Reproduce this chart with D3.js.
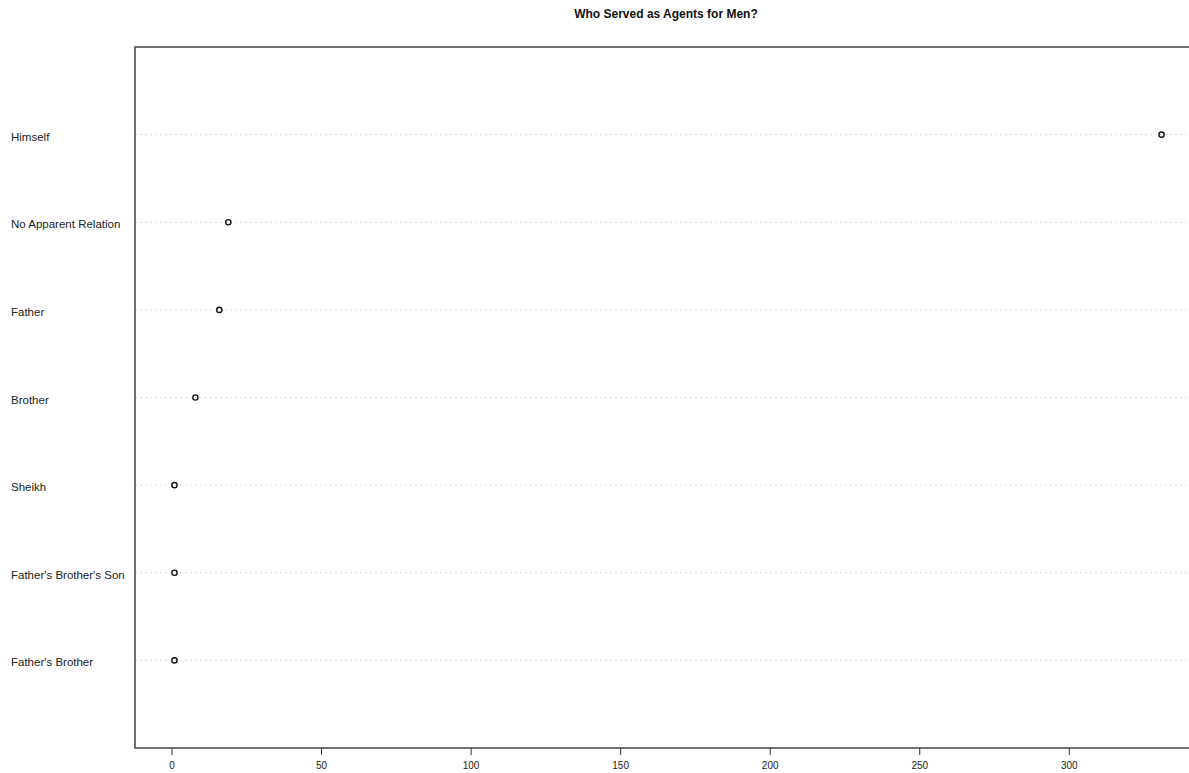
<!DOCTYPE html>
<html>
<head>
<meta charset="utf-8">
<script src="https://cdn.jsdelivr.net/npm/d3@7"></script>
<style>
  html, body { margin: 0; padding: 0; background: #fff; }
  svg { display: block; font-family: "Liberation Sans", Arial, Helvetica, sans-serif; }
</style>
</head>
<body>
<svg id="chart" width="1189" height="773"></svg>
<script>
// Agent relationships, bottom row first (dotchart order)
const categories = [
  "Father's Brother",
  "Father's Brother's Son",
  "Sheikh",
  "Brother",
  "Father",
  "No Apparent Relation",
  "Himself"
];
const counts = [1, 1, 1, 8, 16, 19, 331];
const xTicks = [0, 50, 100, 150, 200, 250, 300];
const title = "Who Served as Agents for Men?";

const svg = d3.select("#chart");

// Plot region (right edge runs past the page width)
const plotLeft = 135, plotRight = 1201, plotTop = 47, plotBottom = 748;

const lo = d3.min(counts), hi = d3.max(counts);
const pad = (hi - lo) * 0.04;
const x = d3.scaleLinear().domain([lo - pad, hi + pad]).range([plotLeft, plotRight]);
const y = d3.scaleLinear().domain([0, categories.length + 1]).range([plotBottom, plotTop]);

// Dotted guide lines
svg.append("g").selectAll("line")
  .data(categories)
  .join("line")
  .attr("x1", plotLeft).attr("x2", plotRight)
  .attr("y1", (d, i) => y(i + 1)).attr("y2", (d, i) => y(i + 1))
  .attr("stroke", "#dcdcdc")
  .attr("stroke-width", 1)
  .attr("stroke-dasharray", "2,3");

// Frame
svg.append("rect")
  .attr("x", plotLeft).attr("y", plotTop)
  .attr("width", plotRight - plotLeft).attr("height", plotBottom - plotTop)
  .attr("fill", "none")
  .attr("stroke", "#444")
  .attr("stroke-width", 1.5);

// Points
svg.append("g").selectAll("circle")
  .data(counts)
  .join("circle")
  .attr("cx", d => x(d))
  .attr("cy", (d, i) => y(i + 1))
  .attr("r", 2.6)
  .attr("fill", "none")
  .attr("stroke", "#111")
  .attr("stroke-width", 1.4);

// Category labels
svg.append("g").selectAll("text")
  .data(categories)
  .join("text")
  .attr("x", 11)
  .attr("y", (d, i) => y(i + 1) + 2)
  .attr("dy", "0.35em")
  .attr("font-size", 11.5)
  .attr("fill", "#222")
  .text(d => d);

// Bottom axis
const axis = d3.axisBottom(x)
  .tickValues(xTicks)
  .tickFormat(d3.format("d"))
  .tickSize(7)
  .tickPadding(7);
const gx = svg.append("g")
  .attr("transform", `translate(0,${plotBottom})`)
  .call(axis);
gx.select(".domain").remove();
gx.selectAll(".tick line").attr("stroke", "#333");
gx.selectAll(".tick text")
  .attr("font-size", 10)
  .attr("fill", "#222")
  .attr("font-family", "Liberation Sans, Arial, sans-serif");

// Title
svg.append("text")
  .attr("x", (plotLeft + plotRight) / 2 - 2)
  .attr("y", 18)
  .attr("text-anchor", "middle")
  .attr("font-size", 12)
  .attr("font-weight", "bold")
  .attr("fill", "#111")
  .text(title);
</script>
</body>
</html>
